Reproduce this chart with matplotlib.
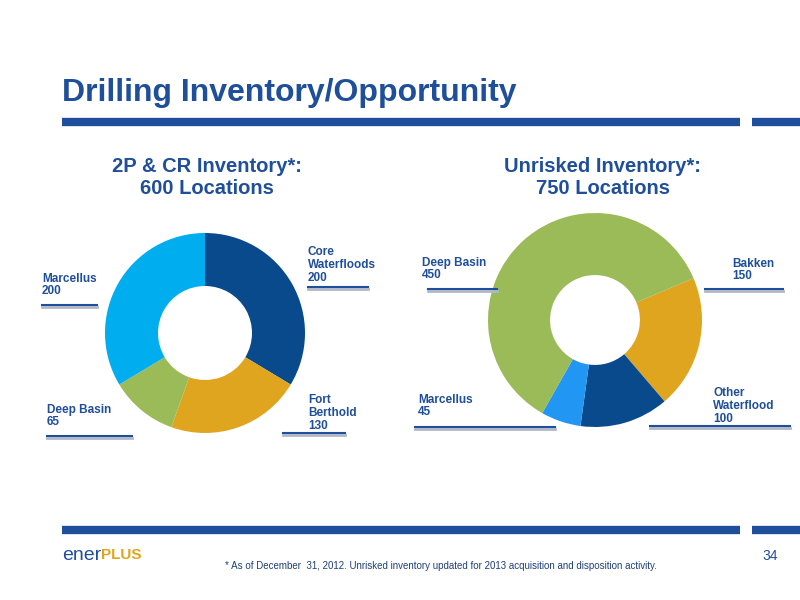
import matplotlib
matplotlib.use("Agg")
import matplotlib.pyplot as plt

plt.rcParams['font.family'] = ['Liberation Sans', 'DejaVu Sans']

left_labels = ["Core\nWaterfloods\n200", "Fort\nBerthold\n130", "Deep Basin\n65", "Marcellus\n200"]
left_values = [200, 130, 65, 200]
left_colors = ["#084a8c", "#e0a51e", "#9bbb59", "#00aeef"]

right_labels = ["Bakken\n150", "Other\nWaterflood\n100", "Marcellus\n45", "Deep Basin\n450"]
right_values = [150, 100, 45, 450]
right_colors = ["#e0a51e", "#084a8c", "#2196f3", "#9bbb59"]

W, H = 800, 600
fig = plt.figure(figsize=(8, 6), dpi=100)
fig.patch.set_facecolor("white")
blue = "#1f4e9a"

def px(x, y):
    return x / W, 1 - y / H

fig.text(*px(62, 93), "Drilling Inventory/Opportunity", fontsize=23, fontweight="bold", color=blue, va="center")
for y in (122, 530):
    fig.add_artist(plt.Line2D([62/W, 740/W], [1-y/H]*2, color="#1f4e9a", lw=6, solid_capstyle="butt"))
    fig.add_artist(plt.Line2D([752/W, 800/W], [1-y/H]*2, color="#1f4e9a", lw=6, solid_capstyle="butt"))

fig.text(*px(207, 178), "2P & CR Inventory*:\n600 Locations", fontsize=14.5, fontweight="bold", color=blue, ha="center", va="center", linespacing=1.2)
fig.text(*px(603, 178), "Unrisked Inventory*:\n750 Locations", fontsize=14.5, fontweight="bold", color=blue, ha="center", va="center", linespacing=1.2)

axL = fig.add_axes([105/W, (600-433)/H, 200/W, 200/H])
axL.pie(left_values, colors=left_colors, startangle=90, counterclock=False,
        wedgeprops=dict(width=0.53, edgecolor="none"))
axL.set_xlim(-1, 1); axL.set_ylim(-1, 1)
axL.set_aspect("equal")

axR = fig.add_axes([488/W, (600-427)/H, 214/W, 214/H])
axR.pie(right_values, colors=right_colors, startangle=90-67, counterclock=False,
        wedgeprops=dict(width=0.58, edgecolor="none"))
axR.set_xlim(-1, 1); axR.set_ylim(-1, 1)
axR.set_aspect("equal")

lab_pos = [(left_labels[0], 308, 265, 308, 368), (left_labels[1], 308, 413, 283, 345),
           (left_labels[2], 47, 416, 47, 132), (left_labels[3], 42, 285, 42, 97),
           (right_labels[0], 732, 270, 705, 783), (right_labels[1], 713, 406, 650, 790),
           (right_labels[2], 418, 406, 415, 555), (right_labels[3], 422, 269, 428, 497)]
line_y = {0: 287, 1: 433, 2: 436, 3: 305, 4: 289, 5: 426, 6: 427, 7: 289}
for i, (t, x, y, x0, x1) in enumerate(lab_pos):
    fig.text(*px(x, y), t, fontsize=8.5, fontweight="bold", color=blue, va="center", linespacing=1.1)
    ly = line_y[i]
    fig.add_artist(plt.Line2D([x0/W, x1/W], [1-(ly+2)/H]*2, color="#b0b8c8", lw=2))
    fig.add_artist(plt.Line2D([x0/W, x1/W], [1-ly/H]*2, color="#1f4e9a", lw=1.5))

fig.text(*px(62, 555), "ener", fontsize=14, color="#1f4e9a", va="center")
fig.text(*px(101, 555), "PLUS", fontsize=11, fontweight="bold", color="#e0a51e", va="center")
fig.text(*px(225, 566), "* As of December  31, 2012. Unrisked inventory updated for 2013 acquisition and disposition activity.",
         fontsize=7, color="#1f3f7a", va="center")
fig.text(*px(762, 556), "34", fontsize=10, color="#1f4e9a", va="center")

fig.savefig("out.png", dpi=100)
